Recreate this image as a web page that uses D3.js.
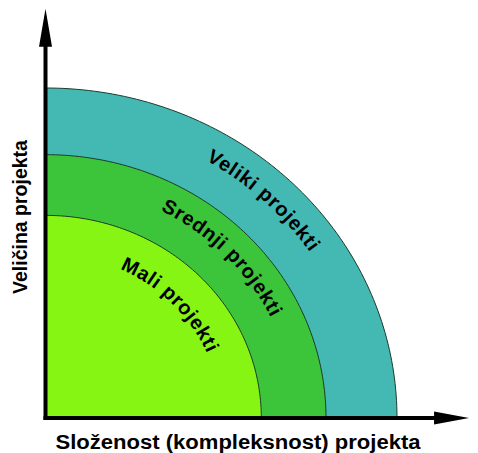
<!DOCTYPE html>
<html>
<head>
<meta charset="utf-8">
<script src="https://cdn.jsdelivr.net/npm/d3@7"></script>
<style>
  body { margin: 0; background: #fff; }
  text { font-family: "Liberation Sans", Arial, sans-serif; font-weight: bold; fill: #000; }
</style>
</head>
<body>
<script>
// categories, inner to outer
var categories = ["Mali projekti", "Srednji projekti", "Veliki projekti"];
// outer radius of each ring (same units on both axes)
var radii = [6.14, 7.98, 10];
var colors = ["#86f514", "#3cc43a", "#44b8b2"];
var xTitle = "Složenost (kompleksnost) projekta";
var yTitle = "Veličina projekta";

// label layout: radius of the label path and offset along it
var labelRadii = [5.2, 7.3, 9.25];
var labelOffsets = ["52%", "52%", "49%"];

var width = 478, height = 453;
var margin = { top: 88, right: 81, bottom: 35, left: 45.5 };

var x = d3.scaleLinear().domain([0, 10]).range([margin.left, width - margin.right]);
var y = d3.scaleLinear().domain([0, 10]).range([height - margin.bottom, margin.top]);

var svg = d3.select("body").append("svg")
    .attr("width", width)
    .attr("height", height);

var defs = svg.append("defs");

// quarter ellipse path for radius r, from the top (y axis) to the right (x axis)
function arcPoints(r, n) {
  var pts = [];
  for (var i = 0; i <= n; i++) {
    var a = Math.PI / 2 - (Math.PI / 2) * i / n;
    pts.push([x(r * Math.cos(a)), y(r * Math.sin(a))]);
  }
  return pts;
}
var line = d3.line();

// rings, drawn outer first
var rings = d3.range(radii.length).reverse();
svg.selectAll("path.ring")
    .data(rings)
    .enter().append("path")
    .attr("class", "ring")
    .attr("d", function(i) {
      var pts = [[x(0), y(0)]].concat(arcPoints(radii[i], 90));
      return line(pts) + "Z";
    })
    .style("fill", function(i) { return colors[i]; })
    .style("stroke", "#1d3b2c")
    .style("stroke-width", 1);

// label paths
categories.forEach(function(c, i) {
  defs.append("path")
      .attr("id", "lp" + i)
      .attr("d", line(arcPoints(labelRadii[i], 90)));
});

svg.selectAll("text.ringlabel")
    .data(categories)
    .enter().append("text")
    .attr("class", "ringlabel")
    .style("font-size", "20px")
    .style("letter-spacing", "1px")
    .attr("dy", "0.35em")
  .append("textPath")
    .attr("href", function(d, i) { return "#lp" + i; })
    .attr("startOffset", function(d, i) { return labelOffsets[i]; })
    .attr("text-anchor", "middle")
    .text(function(d) { return d; });

// axes
var xEnd = x(12.05), yEnd = y(12.4);
svg.append("line")
    .attr("x1", x(0) - 2).attr("y1", y(0))
    .attr("x2", xEnd - 30).attr("y2", y(0))
    .style("stroke", "#000").style("stroke-width", 4);
svg.append("path")
    .attr("d", "M" + xEnd + "," + y(0) + "L" + (xEnd - 35) + "," + (y(0) - 6.5) +
               "L" + (xEnd - 35) + "," + (y(0) + 6.5) + "Z")
    .style("fill", "#000");

svg.append("line")
    .attr("x1", x(0)).attr("y1", y(0) + 2)
    .attr("x2", x(0)).attr("y2", yEnd + 33)
    .style("stroke", "#000").style("stroke-width", 4);
svg.append("path")
    .attr("d", "M" + x(0) + "," + yEnd + "L" + (x(0) - 6.5) + "," + (yEnd + 38) +
               "L" + (x(0) + 6.5) + "," + (yEnd + 38) + "Z")
    .style("fill", "#000");

svg.append("text")
    .attr("x", 238).attr("y", 449)
    .attr("text-anchor", "middle")
    .attr("textLength", 365)
    .attr("lengthAdjust", "spacingAndGlyphs")
    .style("font-size", "20px")
    .text(xTitle);

svg.append("text")
    .attr("transform", "translate(27,217) rotate(-90)")
    .attr("text-anchor", "middle")
    .style("font-size", "19.5px")
    .text(yTitle);
</script>
</body>
</html>
